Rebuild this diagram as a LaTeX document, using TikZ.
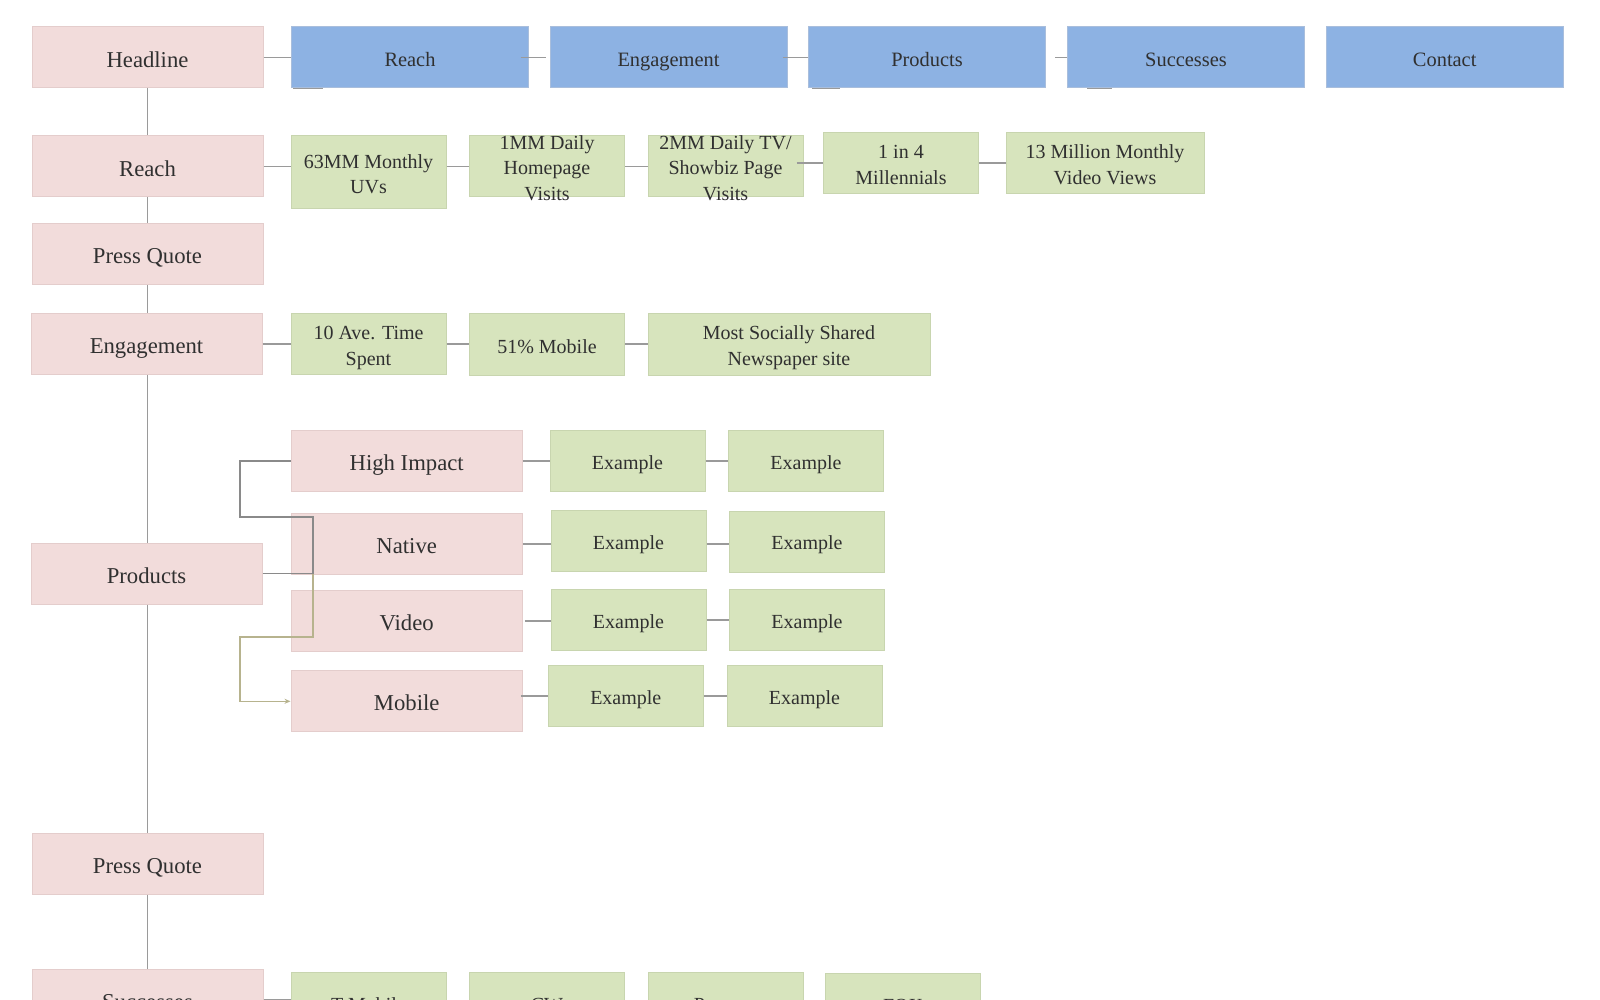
\documentclass[tikz,border=0pt]{standalone}
\usepackage{fontspec}
\setmainfont{Liberation Serif}
\usetikzlibrary{arrows.meta}
\definecolor{pinkf}{HTML}{F2DCDB}
\definecolor{pinkbd}{HTML}{E4CDCC}
\definecolor{bluef}{HTML}{8DB2E3}
\definecolor{bluebd}{HTML}{A9BEDC}
\definecolor{greenf}{HTML}{D7E4BD}
\definecolor{greenbd}{HTML}{C8D5AF}
\definecolor{linec}{HTML}{9A9A9A}
\definecolor{darkline}{HTML}{8A8A8A}
\definecolor{khaki}{HTML}{B7B38E}
\definecolor{txt}{HTML}{303030}
\newcommand\tstrut{\rule[-0.216em]{0pt}{1.107em}}
\newcommand\topstrut{\rule[-0.216em]{0pt}{1.27em}}
\tikzset{
  boxbase/.style={inner sep=0pt, line width=0.5pt, text=txt, align=center,
    execute at begin node=\topstrut, execute at end node=\tstrut},
  ml/.style={text height=23.2pt, text depth=2.16pt},
  pinkbox/.style={boxbase, draw=pinkbd, fill=pinkf, minimum width=115.5pt, minimum height=30.5pt,
    font=\fontsize{11.35}{14}\selectfont},
  bluebox/.style={boxbase, draw=bluebd, fill=bluef, minimum width=118.5pt, minimum height=30.5pt,
    font=\fontsize{10.2}{12.75}\selectfont},
  greenbox/.style={boxbase, draw=greenbd, fill=greenf, minimum width=77.5pt, minimum height=30.5pt,
    font=\fontsize{10}{12.75}\selectfont},
  gtext/.style={inner sep=0pt, text=txt, align=center, font=\fontsize{10}{12.75}\selectfont,
    text height=35.9pt, text depth=2.16pt},
  conn/.style={draw=linec, line width=0.9pt},
  dconn/.style={draw=darkline, line width=0.8pt},
  kconn/.style={draw=khaki, line width=0.7pt},
}
\begin{document}
\begin{tikzpicture}[x=0.5pt,y=-0.5pt]
\useasboundingbox (0,0) rectangle (1600,1000);
\clip (0,0) rectangle (1600,1000);
\fill[white] (0,0) rectangle (1600,1000);

% left column
\node[pinkbox] (headline) at (147.5,57.5) {Headline};
\node[pinkbox] (reachP) at (147.5,166.5) {Reach};
\node[pinkbox] (pq1) at (147.5,254) {Press Quote};
\node[pinkbox] (engP) at (146.5,344) {Engagement};
\node[pinkbox] (prodP) at (146.5,573.5) {Products};
\node[pinkbox] (pq2) at (147.5,863.5) {Press Quote};
\node[pinkbox] (succP) at (147.5,999.5) {Successes};

% top navigation
\node[bluebox] (reachB) at (410,57.5) {Reach};
\node[bluebox] (engB) at (668.5,57.5) {Engagement};
\node[bluebox] (prodB) at (927,57.5) {Products};
\node[bluebox] (succB) at (1186,57.5) {Successes};
\node[bluebox] (contB) at (1444.7,57.5) {Contact};

% reach row
\node[greenbox, ml, minimum height=36.5pt] (g1) at (368.5,172.5) {63MM Monthly\\UVs};
\node[greenbox, label={[gtext]center:1MM Daily\\Homepage\\Visits}] (g2) at (547,166.5) {};
\node[greenbox, label={[gtext]center:2MM Daily TV/\\Showbiz Page\\Visits}] (g3) at (725.5,166.5) {};
\node[greenbox, ml] (g4) at (901,163.3) {1 in 4\\Millennials};
\node[greenbox, ml, minimum width=99pt] (g5) at (1105,163.3) {13 Million Monthly\\Video Views};

% engagement row
\node[greenbox, ml, minimum height=30.75pt] (e1) at (368.5,344) {10 Ave. Time\\Spent};
\node[greenbox, minimum height=30.75pt] (e2) at (547,344.7) {51\% Mobile};
\node[greenbox, ml, minimum width=141pt, minimum height=31pt] (e3) at (789,344.3) {Most Socially Shared\\Newspaper site};

% products
\node[pinkbox, minimum width=115.7pt] (hi) at (406.7,461) {High Impact};
\node[pinkbox, minimum width=115.7pt] (nat) at (406.7,543.8) {Native};
\node[pinkbox, minimum width=115.7pt] (vid) at (406.7,621) {Video};
\node[pinkbox, minimum width=115.7pt] (mob) at (406.7,701.3) {Mobile};

\node[greenbox] (x11) at (627.5,461) {Example};
\node[greenbox] (x21) at (628.5,541) {Example};
\node[greenbox] (x31) at (628.5,620) {Example};
\node[greenbox] (x41) at (625.8,696) {Example};
\node[greenbox] (x12) at (806,461) {Example};
\node[greenbox] (x22) at (807,541.5) {Example};
\node[greenbox] (x32) at (807,620) {Example};
\node[greenbox] (x42) at (804.5,696) {Example};

% successes row
\node[greenbox] (s1) at (368.5,1003) {T-Mobile};
\node[greenbox] (s2) at (547,1003) {CW};
\node[greenbox] (s3) at (725.5,1003) {Pearson};
\node[greenbox] (s4) at (903,1004) {FOX};

% vertical spine
\draw[conn] (headline.south) -- (reachP.north);
\draw[conn] (reachP.south) -- (pq1.north);
\draw[conn] (pq1.south) -- (pq1.south |- engP.north);
\draw[conn] (pq1.south |- engP.south) -- (pq1.south |- prodP.north);
\draw[conn] (pq1.south |- prodP.south) -- (pq2.north);
\draw[conn] (pq2.south) -- (succP.north);

% top row
\draw[conn] (headline.east) -- (reachB.west);
\draw[conn] ([xshift=-4.25pt]reachB.east) -- ([xshift=-2pt]engB.west);
\draw[conn] ([xshift=-2.5pt]engB.east) -- (prodB.west);
\draw[conn] ([xshift=4.5pt]prodB.east) -- (succB.west);
\draw[conn] ([xshift=1pt]reachB.south west) -- ++(30,0);
\draw[conn] ([xshift=2pt]prodB.south west) -- ++(28,0);
\draw[conn] ([xshift=10pt]succB.south west) -- ++(25,0);

% reach row
\draw[conn] (reachP.east) -- (g1.west |- reachP.east);
\draw[conn] (g1.east |- g2.west) -- (g2.west);
\draw[conn] (g2.east) -- (g3.west);
\draw[conn] ([xshift=-3.5pt]g3.east |- g4.west) -- (g4.west);
\draw[conn] (g4.east) -- (g5.west);

% engagement row
\draw[conn] (engP.east) -- (e1.west);
\draw[conn] (e1.east) -- (e2.west |- e1.east);
\draw[conn] (e2.east |- e1.east) -- (e3.west |- e1.east);

% product rows
\draw[conn] (hi.east) -- (x11.west);
\draw[conn] (x11.east) -- (x12.west);
\draw[conn] (nat.east) -- (x21.west |- nat.east);
\draw[conn] (x21.east |- nat.east) -- (x22.west |- nat.east);
\draw[conn] ([xshift=1pt]vid.east) -- (x31.west |- vid.east);
\draw[conn] (x31.east) -- (x32.west);
\draw[conn] ([xshift=-1pt]mob.east |- x41.west) -- (x41.west);
\draw[conn] (x41.east) -- (x42.west);

% successes row
\draw[conn] (succP.east) -- (s1.west |- succP.east);

% products tangle
\coordinate (tj) at (313,573.5);
\draw[dconn] (hi.west) -- (240,461) -- (240,517) -- (313,517) -- (tj);
\draw[dconn] (prodP.east) -- (tj);
\draw[kconn, -{Stealth[length=3pt,width=2.5pt]}] (tj) -- (313,637) -- (240,637) -- (240,701.3) -- (mob.west);
\end{tikzpicture}
\end{document}
